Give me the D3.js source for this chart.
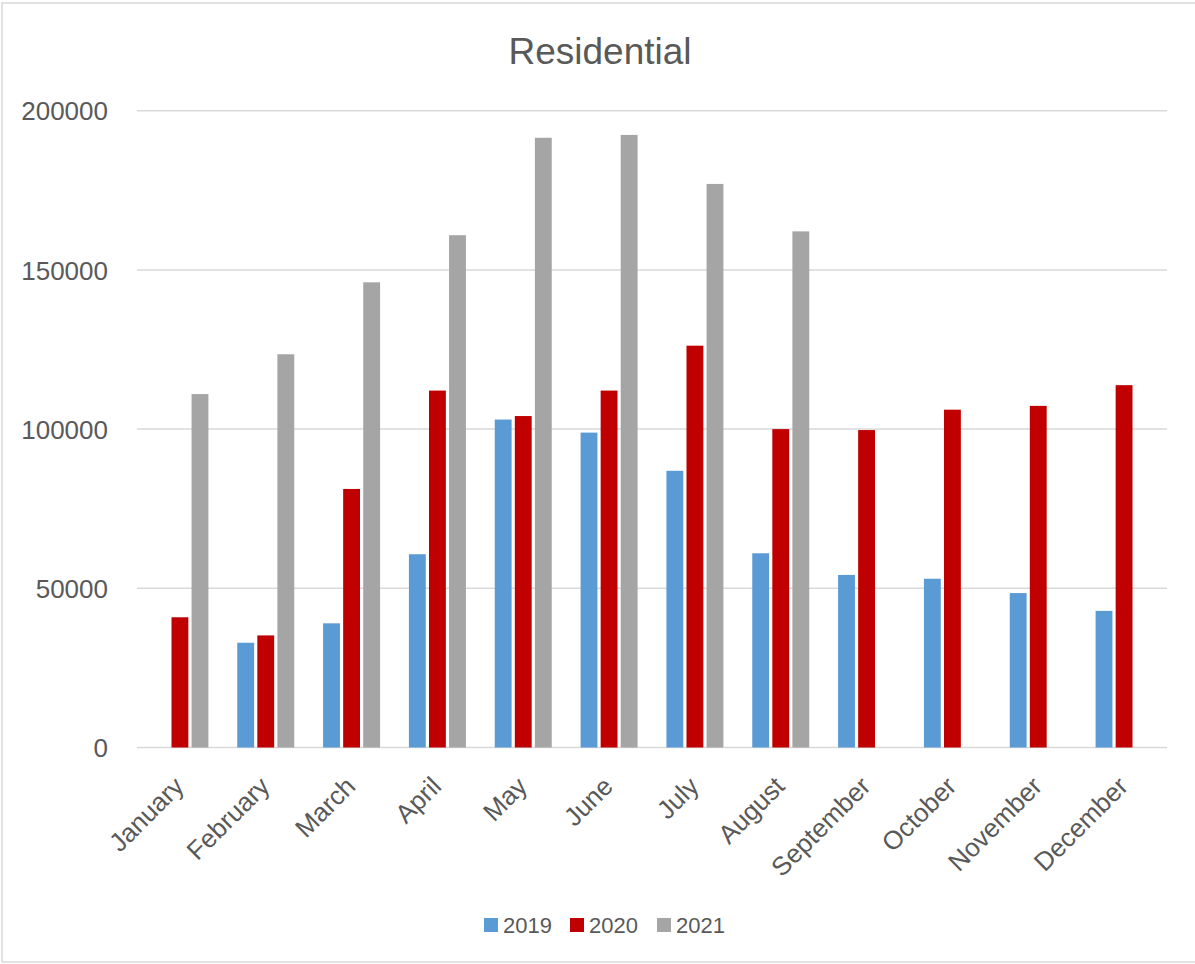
<!DOCTYPE html>
<html lang="en">
<head>
<meta charset="UTF-8">
<title>Residential</title>
<script src="https://d3js.org/d3.v7.min.js"></script>
<style>
  body { margin: 0; background: #fff; }
  text { font-family: "Liberation Sans", Arial, sans-serif; fill: #595959; }
</style>
</head>
<body>
<div id="chart"></div>
<script>
// data
const months = ['January', 'February', 'March', 'April', 'May', 'June',
  'July', 'August', 'September', 'October', 'November', 'December'];
const years = ['2019', '2020', '2021'];
const values2019 = [null, 32900, 39000, 60700, 103000, 98900, 86900, 61000, 54200, 53000, 48500, 42900];
const values2020 = [40900, 35200, 81200, 112100, 104100, 112100, 126200, 100000, 99700, 106100, 107300, 113800];
const values2021 = [111000, 123500, 146100, 160900, 191500, 192400, 177000, 162100, null, null, null, null];
const yTicks = [0, 50000, 100000, 150000, 200000];
const colors = ['#5b9bd5', '#c00000', '#a5a5a5'];

const series = [values2019, values2020, values2021];

const W = 1195, H = 964;
const plotLeft = 137, plotRight = 1167, plotTop = 110.7, plotBottom = 747.5;

const svg = d3.select('#chart').append('svg')
  .attr('width', W)
  .attr('height', H);

// chart border
svg.append('rect')
  .attr('x', 2).attr('y', 3)
  .attr('width', W + 10).attr('height', 959)
  .attr('fill', '#fff')
  .attr('stroke', '#d9d9d9')
  .attr('stroke-width', 1.5);

const x0 = d3.scaleBand().domain(months).range([plotLeft, plotRight]).padding(0);
const groupW = 57;
const x1 = d3.scaleBand().domain(years)
  .range([(x0.bandwidth() - groupW) / 2, (x0.bandwidth() + groupW) / 2])
  .paddingInner(0.16);
const y = d3.scaleLinear().domain([0, 200000]).range([plotBottom, plotTop]);

// gridlines
svg.append('g')
  .selectAll('line')
  .data(yTicks)
  .join('line')
  .attr('x1', plotLeft).attr('x2', plotRight)
  .attr('y1', d => y(d)).attr('y2', d => y(d))
  .attr('stroke', '#d9d9d9')
  .attr('stroke-width', 1.5);

// y axis labels
const yAxis = svg.append('g')
  .attr('transform', `translate(${plotLeft - 29},0)`)
  .call(d3.axisLeft(y).tickValues(yTicks).tickSize(0).tickPadding(0).tickFormat(d3.format('d')));
yAxis.select('.domain').remove();
yAxis.selectAll('text')
  .style('font-size', '26px')
  .style('font-family', '"Liberation Sans", Arial, sans-serif')
  .attr('fill', '#595959')
  .attr('dy', '0.35em');

// bars
years.forEach((yr, i) => {
  svg.append('g')
    .selectAll('rect')
    .data(months.map((m, j) => ({ m, v: series[i][j] })).filter(d => d.v != null))
    .join('rect')
    .attr('x', d => x0(d.m) + x1(yr))
    .attr('width', x1.bandwidth())
    .attr('y', d => y(d.v))
    .attr('height', d => y(0) - y(d.v))
    .attr('fill', colors[i]);
});

// x labels
svg.append('g')
  .selectAll('text')
  .data(months)
  .join('text')
  .attr('transform', d => `translate(${x0(d) + x0.bandwidth() / 2 - 1},${plotBottom + 34}) rotate(-45)`)
  .attr('text-anchor', 'end')
  .attr('dy', '0.35em')
  .style('font-size', '26px')
  .text(d => d);

// title
svg.append('text')
  .attr('x', 600)
  .attr('y', 64)
  .attr('text-anchor', 'middle')
  .style('font-size', '37px')
  .text('Residential');

// legend
const legendX = [484, 570, 657];
const legend = svg.append('g');
years.forEach((yr, i) => {
  legend.append('rect')
    .attr('x', legendX[i]).attr('y', 918)
    .attr('width', 14).attr('height', 14)
    .attr('fill', colors[i]);
  legend.append('text')
    .attr('x', legendX[i] + 19).attr('y', 933)
    .style('font-size', '22px')
    .text(yr);
});
</script>
</body>
</html>
